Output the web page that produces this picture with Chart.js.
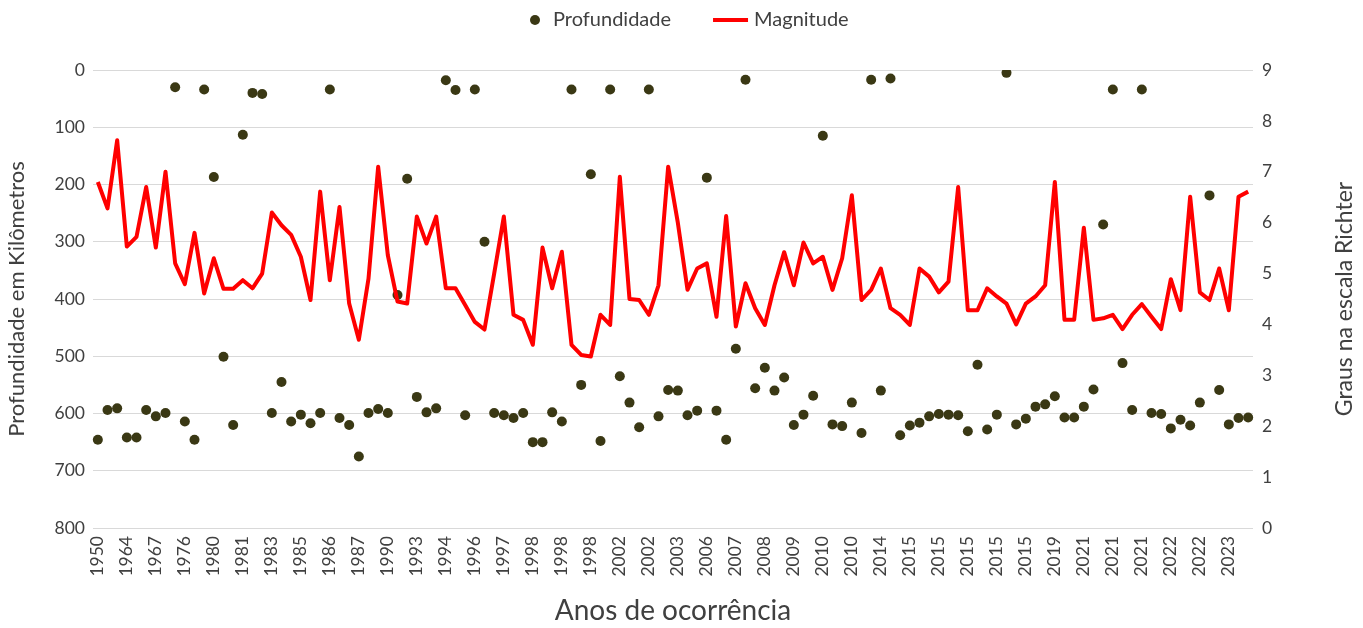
<!DOCTYPE html>
<html>
<head>
<meta charset="utf-8">
<script src="https://cdn.jsdelivr.net/npm/chart.js@4.4.1/dist/chart.umd.min.js"></script>
<style>
  html, body { margin: 0; padding: 0; background: #fff; }
  #wrap { width: 1363px; height: 628px; }
</style>
</head>
<body>
<div id="wrap"><canvas id="chart" width="1363" height="628"></canvas></div>
<script>
// year labels shown on the axis (one every 3 records)
const tickYears = ["1950", "1964", "1967", "1976", "1980", "1981", "1983", "1985", "1986", "1987",
  "1990", "1993", "1994", "1996", "1997", "1998", "1998", "1998", "2002", "2002",
  "2003", "2006", "2007", "2008", "2009", "2010", "2010", "2014", "2015", "2015",
  "2015", "2015", "2015", "2019", "2021", "2021", "2021", "2022", "2022", "2023"];

// depth in km, one value per record
const profundidade = [646, 594, 591, 642, 642, 594, 605, 599, 30, 614,
  646, 34, 187, 501, 620, 113, 40, 42, 599, 545,
  614, 602, 617, 599, 34, 608, 620, 675, 599, 592,
  599, 393, 190, 571, 598, 591, 18, 35, 603, 34,
  300, 599, 603, 608, 599, 650, 650, 598, 614, 34,
  550, 182, 648, 34, 535, 581, 624, 34, 605, 559,
  560, 603, 595, 188, 595, 646, 487, 17, 556, 520,
  560, 537, 620, 602, 569, 115, 619, 622, 581, 634,
  17, 560, 15, 638, 621, 616, 605, 601, 602, 603,
  631, 515, 628, 602, 5, 619, 609, 588, 584, 570,
  607, 607, 588, 558, 270, 34, 512, 594, 34, 599,
  601, 626, 611, 621, 581, 219, 559, 619, 608, 607];

// magnitude (Richter), one value per record
const magnitude = [6.80, 6.28, 7.62, 5.53, 5.72, 6.70, 5.51, 7.00, 5.20, 4.79,
  5.80, 4.61, 5.30, 4.70, 4.70, 4.87, 4.71, 5.00, 6.20, 5.95,
  5.76, 5.33, 4.48, 6.61, 4.87, 6.31, 4.41, 3.70, 4.90, 7.10,
  5.36, 4.45, 4.41, 6.12, 5.59, 6.12, 4.71, 4.71, 4.38, 4.05,
  3.90, 5.00, 6.12, 4.19, 4.09, 3.60, 5.51, 4.71, 5.43, 3.60,
  3.40, 3.37, 4.19, 3.99, 6.90, 4.50, 4.48, 4.19, 4.77, 7.10,
  6.00, 4.68, 5.10, 5.20, 4.15, 6.13, 3.96, 4.81, 4.32, 3.99,
  4.77, 5.42, 4.77, 5.61, 5.20, 5.33, 4.68, 5.30, 6.54, 4.48,
  4.68, 5.10, 4.32, 4.19, 3.99, 5.10, 4.94, 4.63, 4.84, 6.70,
  4.28, 4.28, 4.71, 4.55, 4.41, 4.00, 4.41, 4.55, 4.77, 6.80,
  4.09, 4.09, 5.90, 4.09, 4.12, 4.19, 3.91, 4.19, 4.40, 4.15,
  3.91, 4.89, 4.28, 6.51, 4.63, 4.48, 5.10, 4.28, 6.51, 6.61];

const categories = profundidade.map((v, i) => (i % 3 === 0 ? tickYears[i / 3] : ""));

const textColor = "#404040";
const fontFamily = "Lato, 'Open Sans', sans-serif";

// legend + right axis title drawn by hand (right title reads bottom-to-top)
const extraText = {
  id: "extraText",
  afterDraw(chart) {
    const ctx = chart.ctx;
    const area = chart.chartArea;
    const ds = chart.data.datasets;

    ctx.save();
    ctx.fillStyle = textColor;
    ctx.font = "23px " + fontFamily;
    ctx.textAlign = "center";
    ctx.textBaseline = "middle";
    ctx.translate(1345, (area.top + area.bottom) / 2);
    ctx.rotate(-Math.PI / 2);
    ctx.fillText("Graus na escala Richter", 0, 0);
    ctx.restore();

    ctx.save();
    ctx.font = "20px " + fontFamily;
    ctx.textBaseline = "middle";
    ctx.textAlign = "left";
    const y = 20;
    let x = 535;
    ctx.fillStyle = ds[0].pointBackgroundColor;
    ctx.beginPath();
    ctx.arc(x, y, 5, 0, Math.PI * 2);
    ctx.fill();
    ctx.fillStyle = textColor;
    ctx.fillText(ds[0].label, x + 18, y);
    x = x + 18 + ctx.measureText(ds[0].label).width + 42;
    ctx.strokeStyle = ds[1].borderColor;
    ctx.lineWidth = 4;
    ctx.beginPath();
    ctx.moveTo(x, y);
    ctx.lineTo(x + 35, y);
    ctx.stroke();
    ctx.fillText(ds[1].label, x + 41, y);
    ctx.restore();
  }
};

new Chart(document.getElementById("chart"), {
  type: "line",
  data: {
    labels: categories,
    datasets: [
      {
        label: "Profundidade",
        data: profundidade,
        yAxisID: "y",
        showLine: false,
        pointRadius: 5,
        pointBackgroundColor: "#3a3814",
        pointBorderColor: "#3a3814",
        pointBorderWidth: 0,
        order: 1
      },
      {
        label: "Magnitude",
        data: magnitude,
        yAxisID: "y1",
        borderColor: "#ff0000",
        borderWidth: 4,
        borderJoinStyle: "round",
        pointRadius: 0,
        tension: 0,
        order: 0
      }
    ]
  },
  options: {
    responsive: false,
    animation: false,
    devicePixelRatio: 1,
    layout: { padding: { top: 70, left: 0, right: 0, bottom: 0 } },
    plugins: {
      legend: { display: false },
      tooltip: { enabled: false }
    },
    scales: {
      x: {
        offset: true,
        grid: { display: false, drawTicks: false },
        border: { display: false },
        ticks: {
          autoSkip: false,
          maxRotation: 90,
          minRotation: 90,
          color: textColor,
          padding: 8,
          font: { family: fontFamily, size: 17.5 }
        },
        title: {
          display: true,
          text: "Anos de ocorrência",
          color: textColor,
          font: { family: fontFamily, size: 28 },
          padding: { top: 0, bottom: 0 }
        },
        afterFit(scale) { scale.height = 100; }
      },
      y: {
        position: "left",
        reverse: true,
        min: 0,
        max: 800,
        ticks: {
          stepSize: 100,
          color: textColor,
          padding: 8,
          font: { family: fontFamily, size: 17.5 }
        },
        grid: { color: "#d9d9d9", lineWidth: 1, drawTicks: false },
        border: { display: false },
        title: {
          display: true,
          text: "Profundidade em Kilômetros",
          color: textColor,
          font: { family: fontFamily, size: 22 },
          padding: { top: 4, bottom: 0 }
        },
        afterFit(scale) { scale.width = 93; }
      },
      y1: {
        position: "right",
        min: 0,
        max: 9,
        ticks: {
          stepSize: 1,
          color: textColor,
          padding: 9,
          font: { family: fontFamily, size: 17.5 }
        },
        grid: { display: false, drawTicks: false },
        border: { display: false },
        afterFit(scale) { scale.width = 110; }
      }
    }
  },
  plugins: [extraText]
});
</script>
</body>
</html>
